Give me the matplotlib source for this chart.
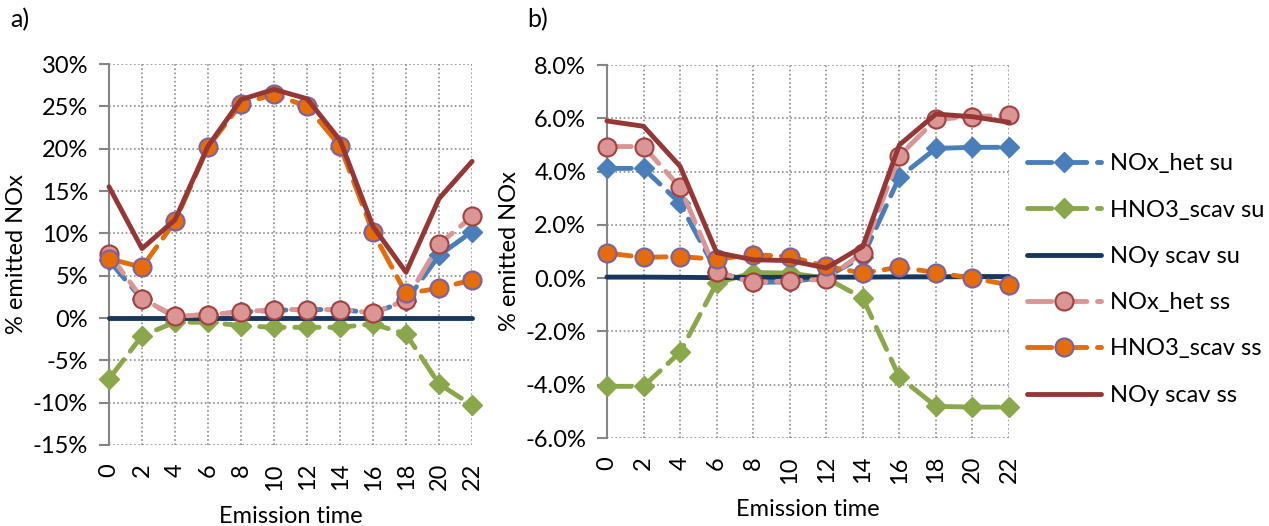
import matplotlib
matplotlib.use('Agg')
import matplotlib.pyplot as plt
from matplotlib.ticker import FuncFormatter

plt.rcParams['font.family'] = ['Lato', 'DejaVu Sans']
plt.rcParams['font.size'] = 17

# emission time (h)
hours = [0, 2, 4, 6, 8, 10, 12, 14, 16, 18, 20, 22]

# panel a, % of emitted NOx
a_nox_het_su = [6.8, 2.2, 0.2, 0.4, 0.7, 0.9, 1.0, 1.0, 0.6, 2.0, 7.4, 10.2]
a_hno3_scav_su = [-7.2, -2.1, -0.5, -0.5, -0.9, -1.1, -1.1, -1.1, -0.7, -1.9, -7.8, -10.3]
a_noy_scav_su = [0.0, 0.0, 0.0, 0.0, 0.0, 0.0, 0.0, 0.0, 0.0, 0.0, 0.0, 0.0]
a_nox_het_ss = [7.6, 2.3, 0.2, 0.4, 0.7, 1.0, 1.0, 1.0, 0.6, 2.1, 8.7, 12.0]
a_hno3_scav_ss = [7.0, 6.0, 11.4, 20.2, 25.3, 26.4, 25.0, 20.3, 10.1, 2.9, 3.5, 4.5]
a_noy_scav_ss = [15.5, 8.2, 11.6, 20.3, 25.8, 27.0, 25.9, 21.0, 10.8, 5.4, 14.1, 18.5]

# panel b, % of emitted NOx
b_nox_het_su = [4.12, 4.12, 2.81, 0.24, -0.16, -0.14, 0.05, 0.8, 3.79, 4.87, 4.91, 4.91]
b_hno3_scav_su = [-4.06, -4.06, -2.78, -0.19, 0.21, 0.19, 0.0, -0.75, -3.71, -4.81, -4.84, -4.84]
b_noy_scav_su = [0.04, 0.04, 0.03, 0.02, 0.03, 0.03, 0.04, 0.04, 0.05, 0.05, 0.06, 0.06]
b_nox_het_ss = [4.94, 4.94, 3.41, 0.23, -0.16, -0.10, -0.04, 0.96, 4.59, 5.96, 6.06, 6.12]
b_hno3_scav_ss = [0.94, 0.78, 0.81, 0.71, 0.88, 0.81, 0.44, 0.19, 0.41, 0.21, 0.0, -0.25]
b_noy_scav_ss = [5.9, 5.7, 4.2, 0.96, 0.69, 0.66, 0.38, 1.19, 5.0, 6.16, 6.06, 5.85]

labels = ['NOx_het su', 'HNO3_scav su', 'NOy scav su',
          'NOx_het ss', 'HNO3_scav ss', 'NOy scav ss']

dash = (0, (5, 2.2))
styles = [
    dict(color='#4A7EBB', ls=dash, marker='D', ms=10, mfc='#4A7EBB', mec='#4A7EBB'),
    dict(color='#8AA84B', ls=dash, marker='D', ms=10, mfc='#8AA84B', mec='#8AA84B'),
    dict(color='#17375E', ls='-', marker=None),
    dict(color='#D99694', ls=dash, marker='o', ms=13, mfc='#D99694', mec='#A4403D', mew=1.5),
    dict(color='#E46C0A', ls=dash, marker='o', ms=13, mfc='#E46C0A', mec='#7A62A3', mew=1.5),
    dict(color='#953735', ls='-', marker=None),
]


def draw_panel(ax, series, ylim, ystep, fmt):
    ax.axhline(0, color='#868686', lw=1, zorder=1)
    for i, (ys, st, lab) in enumerate(zip(series, styles, labels)):
        ax.plot(hours, ys, lw=3.5, label=lab, clip_on=False, zorder=3 + i,
                dash_capstyle='round', solid_capstyle='round', **st)
    ax.set_xlim(0, 22)
    ax.set_ylim(*ylim)
    yt = []
    v = ylim[0]
    while v <= ylim[1] + 1e-9:
        yt.append(v)
        v += ystep
    ax.set_yticks(yt)
    ax.yaxis.set_major_formatter(FuncFormatter(fmt))
    ax.set_xticks(hours)
    ax.set_xticklabels([str(h) for h in hours], rotation=90)
    ax.grid(True, color='#8C8C8C', ls=(0, (1, 1.5)), lw=1.2)
    ax.set_axisbelow(True)
    for s in ['top', 'right', 'bottom']:
        ax.spines[s].set_visible(False)
    ax.spines['left'].set_color('#868686')
    ax.spines['left'].set_linewidth(1.5)
    ax.tick_params(axis='y', length=7, width=1.5, color='#868686', pad=8)
    ax.tick_params(axis='x', length=0, pad=13)
    ax.set_xlabel('Emission time', labelpad=11)
    ax.set_ylabel('% emitted NOx')


fig = plt.figure(figsize=(12.69, 5.26), dpi=100)
ax1 = fig.add_axes([0.0859, 0.154, 0.2861, 0.7243])
ax2 = fig.add_axes([0.4783, 0.1673, 0.3168, 0.7091])

draw_panel(ax1, [a_nox_het_su, a_hno3_scav_su, a_noy_scav_su,
                 a_nox_het_ss, a_hno3_scav_ss, a_noy_scav_ss],
           (-15, 30), 5, lambda v, p: f'{v:.0f}%')
draw_panel(ax2, [b_nox_het_su, b_hno3_scav_su, b_noy_scav_su,
                 b_nox_het_ss, b_hno3_scav_ss, b_noy_scav_ss],
           (-6, 8), 2, lambda v, p: f'{v:.1f}%')

fig.text(10 / 1269, 1 - 20 / 526, 'a)', fontsize=18, va='center')
fig.text(527 / 1269, 1 - 20 / 526, 'b)', fontsize=18, va='center')

fig.legend(*ax2.get_legend_handles_labels(), loc='upper left',
           bbox_to_anchor=(1018 / 1269, 1 - 144 / 526), frameon=False,
           handlelength=3.1, labelspacing=1.07, handletextpad=0.4,
           borderaxespad=0)

fig.savefig('out.png', dpi=100)
